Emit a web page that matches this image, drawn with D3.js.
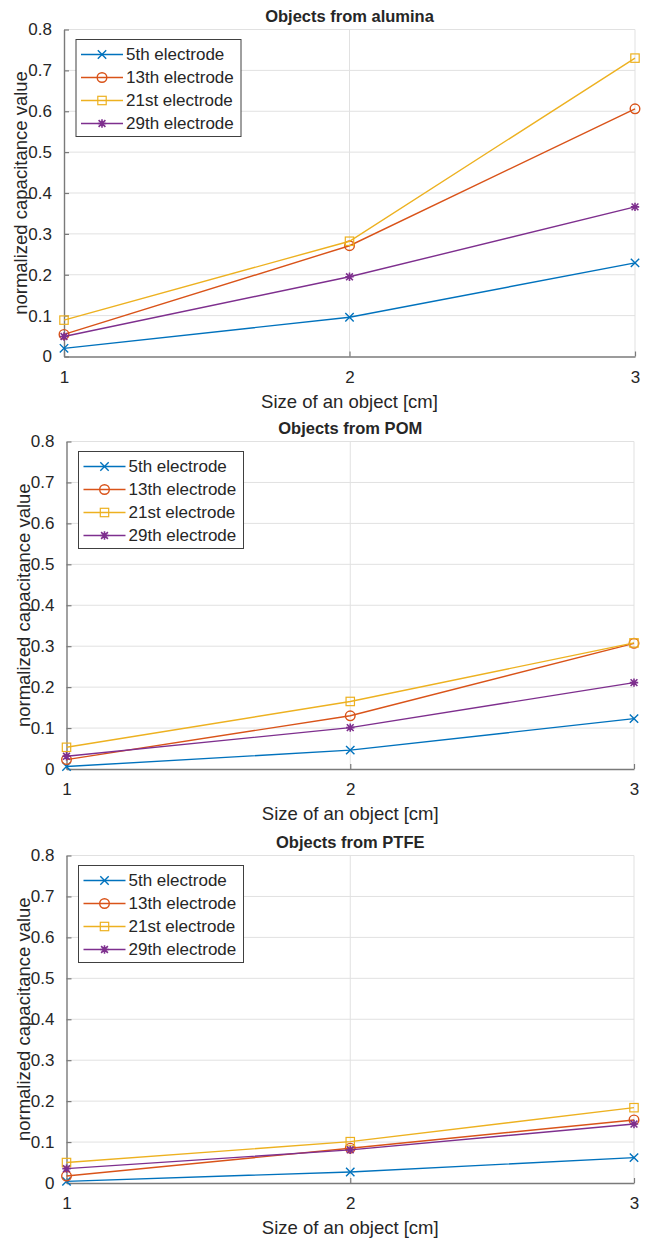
<!DOCTYPE html>
<html>
<head>
<meta charset="utf-8">
<script src="https://cdn.jsdelivr.net/npm/d3@7"></script>
<style>
  body { margin: 0; background: #fff; }
  svg text { font-family: "Liberation Sans", Arial, Helvetica, sans-serif; fill: #262626; }
</style>
</head>
<body>
<div id="chart"></div>
<script>
// values
const sizes = [1, 2, 3];
const electrodes = ["5th electrode", "13th electrode", "21st electrode", "29th electrode"];
const yTicks = [0, 0.1, 0.2, 0.3, 0.4, 0.5, 0.6, 0.7, 0.8];

const alumina = [
  [0.020, 0.096, 0.229],
  [0.054, 0.271, 0.606],
  [0.089, 0.282, 0.730],
  [0.049, 0.195, 0.366]
];
const pom = [
  [0.006, 0.046, 0.123],
  [0.023, 0.130, 0.307],
  [0.053, 0.165, 0.308],
  [0.031, 0.101, 0.211]
];
const ptfe = [
  [0.004, 0.027, 0.062],
  [0.017, 0.085, 0.154],
  [0.050, 0.101, 0.184],
  [0.035, 0.081, 0.144]
];
const titles = ["Objects from alumina", "Objects from POM", "Objects from PTFE"];

const colors = ["#0072BD", "#D95319", "#EDB120", "#7E2F8E"];
const markers = ["x", "o", "s", "*"];

const width = 647, height = 1240;
// plot boxes for the three panels
const boxes = [
  {left: 64, right: 635, top: 29.5, bottom: 356.5},
  {left: 66.5, right: 634, top: 441.5, bottom: 769},
  {left: 66.5, right: 634, top: 855.5, bottom: 1183}
];

const svg = d3.select("#chart").append("svg")
  .attr("width", width)
  .attr("height", height);

function drawMarker(g, type, color) {
  const s = 4.2;
  if (type === "x") {
    g.append("path").attr("d", `M${-s},${-s}L${s},${s}M${-s},${s}L${s},${-s}`)
      .attr("stroke", color).attr("stroke-width", 1.4).attr("fill", "none");
  } else if (type === "o") {
    g.append("circle").attr("r", 4.8)
      .attr("stroke", color).attr("stroke-width", 1.4).attr("fill", "none");
  } else if (type === "s") {
    g.append("rect").attr("x", -4.2).attr("y", -4.2).attr("width", 8.4).attr("height", 8.4)
      .attr("stroke", color).attr("stroke-width", 1.2).attr("fill", "none");
  } else {
    const d = 3.4;
    g.append("path")
      .attr("d", `M0,${-s}L0,${s}M${-s},0L${s},0M${-d},${-d}L${d},${d}M${-d},${d}L${d},${-d}`)
      .attr("stroke", color).attr("stroke-width", 1.6).attr("fill", "none");
  }
}

const fmtY = d => d === 0 ? "0" : d3.format(".1f")(d);

[alumina, pom, ptfe].forEach((series, p) => {
  const b = boxes[p];
  const x = d3.scaleLinear().domain([1, 3]).range([b.left, b.right]);
  const y = d3.scaleLinear().domain([0, 0.8]).range([b.bottom, b.top]);
  const g = svg.append("g");

  // grid
  g.append("g").selectAll("line").data(yTicks.slice(1)).join("line")
    .attr("x1", b.left).attr("x2", b.right)
    .attr("y1", d => y(d)).attr("y2", d => y(d))
    .attr("stroke", "#e1e1e1").attr("stroke-width", 1);
  g.append("g").selectAll("line").data(sizes.slice(1)).join("line")
    .attr("x1", d => x(d)).attr("x2", d => x(d))
    .attr("y1", b.top).attr("y2", b.bottom)
    .attr("stroke", "#e1e1e1").attr("stroke-width", 1);

  // axes
  const yAxis = g.append("g").attr("transform", `translate(${b.left},0)`)
    .call(d3.axisLeft(y).tickValues(yTicks).tickFormat(fmtY).tickSizeInner(-5).tickSizeOuter(0).tickPadding(12));
  const xAxis = g.append("g").attr("transform", `translate(0,${b.bottom})`)
    .call(d3.axisBottom(x).tickValues(sizes).tickFormat(d3.format("d")).tickSizeInner(-5).tickSizeOuter(0).tickPadding(14));
  [yAxis, xAxis].forEach(a => {
    a.select(".domain").attr("stroke", "#7a7a7a").attr("stroke-width", 1.4);
    a.selectAll(".tick line").attr("stroke", "#7a7a7a").attr("stroke-width", 1.2);
    a.selectAll(".tick text").attr("font-size", 17).attr("fill", "#262626")
      .style("font-family", '"Liberation Sans", Arial, sans-serif');
  });

  // lines and markers
  const line = d3.line().x((d, i) => x(sizes[i])).y(d => y(d));
  series.forEach((vals, k) => {
    g.append("path").datum(vals)
      .attr("d", line)
      .attr("fill", "none")
      .attr("stroke", colors[k])
      .attr("stroke-width", 1.4);
    vals.forEach((v, i) => {
      const m = g.append("g").attr("transform", `translate(${x(sizes[i])},${y(v)})`);
      drawMarker(m, markers[k], colors[k]);
    });
  });

  // title and labels
  g.append("text")
    .attr("x", (b.left + b.right) / 2).attr("y", b.top - 8)
    .attr("text-anchor", "middle")
    .attr("font-size", 16.5).attr("font-weight", "bold")
    .attr("fill", "#000")
    .text(titles[p]);
  g.append("text")
    .attr("x", (b.left + b.right) / 2).attr("y", b.bottom + 51)
    .attr("text-anchor", "middle")
    .attr("font-size", 18.5)
    .text("Size of an object [cm]");
  g.append("text")
    .attr("transform", `translate(${b.left - 37},${(b.top + b.bottom) / 2}) rotate(-90)`)
    .attr("text-anchor", "middle")
    .attr("font-size", 18.5)
    .text("normalized capacitance value");

  // legend
  const lg = g.append("g").attr("transform", `translate(${b.left + 12},${b.top + 10})`);
  lg.append("rect")
    .attr("width", 165).attr("height", 97)
    .attr("fill", "#fff").attr("stroke", "#404040").attr("stroke-width", 1);
  electrodes.forEach((name, k) => {
    const ly = 15 + k * 23;
    lg.append("line").attr("x1", 5).attr("x2", 47).attr("y1", ly).attr("y2", ly)
      .attr("stroke", colors[k]).attr("stroke-width", 1.4);
    drawMarker(lg.append("g").attr("transform", `translate(26,${ly})`), markers[k], colors[k]);
    lg.append("text").attr("x", 50).attr("y", ly).attr("dy", "0.35em")
      .attr("font-size", 17)
      .text(name);
  });
});
</script>
</body>
</html>
